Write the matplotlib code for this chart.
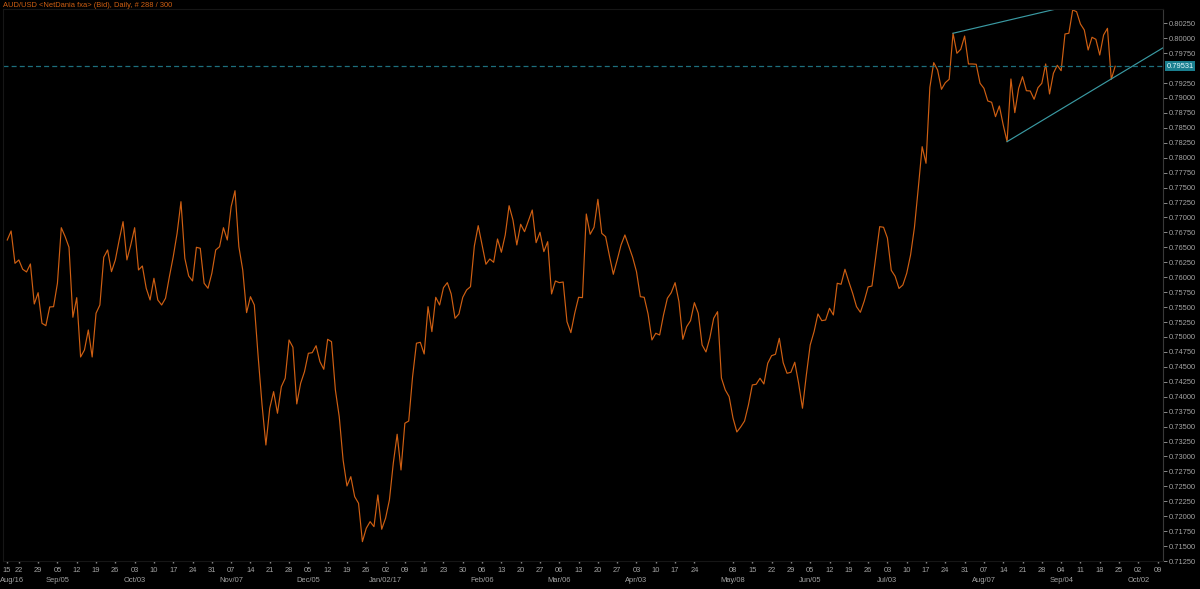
import numpy as np
import pandas as pd
import matplotlib
matplotlib.use('Agg')
from matplotlib import pyplot as plt
from matplotlib import transforms

# AUD/USD daily bid closes (bar 0 = 2016-08-17)
close = [
    0.76623, 0.76774, 0.76233, 0.76289, 0.76133, 0.76088, 0.76222, 0.75552, 0.75741, 0.75229,
    0.75189, 0.75502, 0.75507, 0.75899, 0.76829, 0.76679, 0.76501, 0.75330, 0.75658, 0.74665,
    0.74782, 0.75117, 0.74665, 0.75397, 0.75535, 0.76334, 0.76456, 0.76093, 0.76289, 0.76623,
    0.76930, 0.76289, 0.76540, 0.76829, 0.76121, 0.76188, 0.75815, 0.75619, 0.75982, 0.75619,
    0.75535, 0.75648, 0.76009, 0.76344, 0.76735, 0.77264, 0.76317, 0.76021, 0.75937, 0.76501,
    0.76484, 0.75899, 0.75815, 0.76066, 0.76456, 0.76511, 0.76829, 0.76623, 0.77181, 0.77448,
    0.76511, 0.76121, 0.75407, 0.75674, 0.75535, 0.74670, 0.73867, 0.73192, 0.73807, 0.74085,
    0.73723, 0.74168, 0.74309, 0.74950, 0.74828, 0.73879, 0.74225, 0.74419, 0.74727, 0.74737,
    0.74854, 0.74587, 0.74459, 0.74961, 0.74921, 0.74113, 0.73666, 0.72941, 0.72506, 0.72662,
    0.72327, 0.72217, 0.71574, 0.71798, 0.71909, 0.71825, 0.72356, 0.71782, 0.71966, 0.72272,
    0.72886, 0.73372, 0.72774, 0.73556, 0.73594, 0.74336, 0.74895, 0.74911, 0.74715, 0.75507,
    0.75089, 0.75664, 0.75535, 0.75825, 0.75909, 0.75720, 0.75313, 0.75385, 0.75664, 0.75787,
    0.75842, 0.76523, 0.76863, 0.76540, 0.76217, 0.76305, 0.76250, 0.76640, 0.76418, 0.76707,
    0.77197, 0.76958, 0.76540, 0.76886, 0.76762, 0.76946, 0.77125, 0.76578, 0.76752, 0.76428,
    0.76595, 0.75720, 0.75937, 0.75909, 0.75920, 0.75256, 0.75072, 0.75397, 0.75664, 0.75658,
    0.77058, 0.76719, 0.76836, 0.77304, 0.76735, 0.76679, 0.76356, 0.76049, 0.76289, 0.76540,
    0.76707, 0.76523, 0.76334, 0.76093, 0.75674, 0.75664, 0.75385, 0.74950, 0.75062, 0.75033,
    0.75368, 0.75648, 0.75741, 0.75909, 0.75591, 0.74961, 0.75172, 0.75273, 0.75574, 0.75397,
    0.74866, 0.74749, 0.74983, 0.75313, 0.75423, 0.74314, 0.74113, 0.74001, 0.73644, 0.73410,
    0.73494, 0.73594, 0.73862, 0.74197, 0.74208, 0.74309, 0.74213, 0.74560, 0.74687, 0.74710,
    0.74978, 0.74570, 0.74392, 0.74409, 0.74577, 0.74225, 0.73807, 0.74364, 0.74866, 0.75089,
    0.75385, 0.75273, 0.75284, 0.75480, 0.75368, 0.75899, 0.75882, 0.76133, 0.75925, 0.75731,
    0.75507, 0.75413, 0.75602, 0.75837, 0.75853, 0.76356, 0.76846, 0.76836, 0.76657, 0.76116,
    0.76016, 0.75812, 0.75870, 0.76066, 0.76372, 0.76833, 0.77494, 0.78185, 0.77907, 0.79179,
    0.79591, 0.79468, 0.79145, 0.79256, 0.79313, 0.80083, 0.79748, 0.79815, 0.80037, 0.79569,
    0.79569, 0.79564, 0.79246, 0.79162, 0.78950, 0.78928, 0.78687, 0.78866, 0.78548, 0.78269,
    0.79318, 0.78754, 0.79162, 0.79356, 0.79122, 0.79117, 0.78978, 0.79172, 0.79246, 0.79569,
    0.79067, 0.79413, 0.79547, 0.79457, 0.80071, 0.80083, 0.80473, 0.80444, 0.80238, 0.80138,
    0.79803, 0.80016, 0.79982, 0.79719, 0.80054, 0.80166, 0.79313, 0.79531,
]
last_price = 0.79531

# trend lines drawn on the chart (bar index, price)
upper_x = [245, 300]
upper_y = [0.80083, 0.80919]
lower_x = [259, 299.4]
lower_y = [0.78269, 0.79840]

yticks = [round(0.71250 + 0.0025 * k, 5) for k in range(37) if k != 33]

slots = pd.bdate_range('2016-08-17', periods=300)

BG = '#000000'
ORANGE = '#cf5f12'
TEAL = '#3a9aa3'
GREY = '#a4a4a4'
FONT = 'Liberation Sans'
FS = 5.4

fig = plt.figure(figsize=(12, 5.89), dpi=100, facecolor=BG)
ax = fig.add_axes([0.0025, 0.0475, 0.9667, 0.9367], facecolor=BG)

ax.plot(np.arange(len(close)), close, color=ORANGE, lw=0.85)
ax.plot(upper_x, upper_y, color=TEAL, lw=0.85)
ax.plot(lower_x, lower_y, color=TEAL, lw=0.85)
ax.axhline(last_price, color='#1d6f7d', lw=0.9, ls=(0, (4, 2.5)))

ax.set_xlim(-1.1, 299.4)
ax.set_ylim(0.71250, 0.80484)

for name, sp in ax.spines.items():
    sp.set_color('#161616')
    sp.set_linewidth(0.8)
ax.spines['right'].set_color('#383838')

# y axis on the right
ax.yaxis.tick_right()
ax.set_yticks(yticks)
ax.set_yticklabels([f'{v:.5f}' for v in yticks], fontsize=FS, color=GREY, family=FONT)
ax.tick_params(axis='y', colors='#8a8a8a', length=3, width=0.7, pad=1, labelcolor=GREY)

# weekly ticks (Mondays)
mondays = [i for i, d in enumerate(slots)
           if d.weekday() == 0 and d != pd.Timestamp('2017-05-01')]
xpos = [-0.1] + mondays
xlab = ['15'] + [slots[i].strftime('%d') for i in mondays]
ax.set_xticks(xpos)
ax.set_xticklabels(xlab, fontsize=FS, color=GREY, family=FONT)
ax.tick_params(axis='x', colors='#8a8a8a', length=1.5, width=1.0, pad=2.5, labelcolor=GREY)

# month labels in a second row
trans = transforms.blended_transform_factory(ax.transData, ax.transAxes)
ax.text(-0.0025, -0.036, 'Aug/16', transform=ax.transAxes, ha='left', va='center',
        fontsize=FS, color=GREY, family=FONT)
seen = set()
for i in mondays:
    d = slots[i]
    key = (d.year, d.month)
    if key in seen:
        continue
    seen.add(key)
    if d.month == 8 and d.year == 2016:
        continue
    lab = d.strftime('%b/%d/%y') if d.month == 1 else d.strftime('%b/%d')
    ax.text(i, -0.036, lab, transform=trans, ha='center', va='center',
            fontsize=FS, color=GREY, family=FONT)

# last price tag
tag = transforms.blended_transform_factory(ax.transAxes, ax.transData)
ax.text(1.003, last_price, f'{last_price:.5f}', transform=tag, ha='left', va='center',
        fontsize=FS, color='#e6fbff', family=FONT,
        bbox=dict(boxstyle='square,pad=0.2', fc='#1a7f8f', ec='none'))

fig.text(0.0025, 0.991, 'AUD/USD <NetDania fxa> (Bid), Daily, # 288 / 300',
         ha='left', va='center', fontsize=FS, color=ORANGE, family=FONT)

fig.savefig('out.png', dpi=100, facecolor=BG)
